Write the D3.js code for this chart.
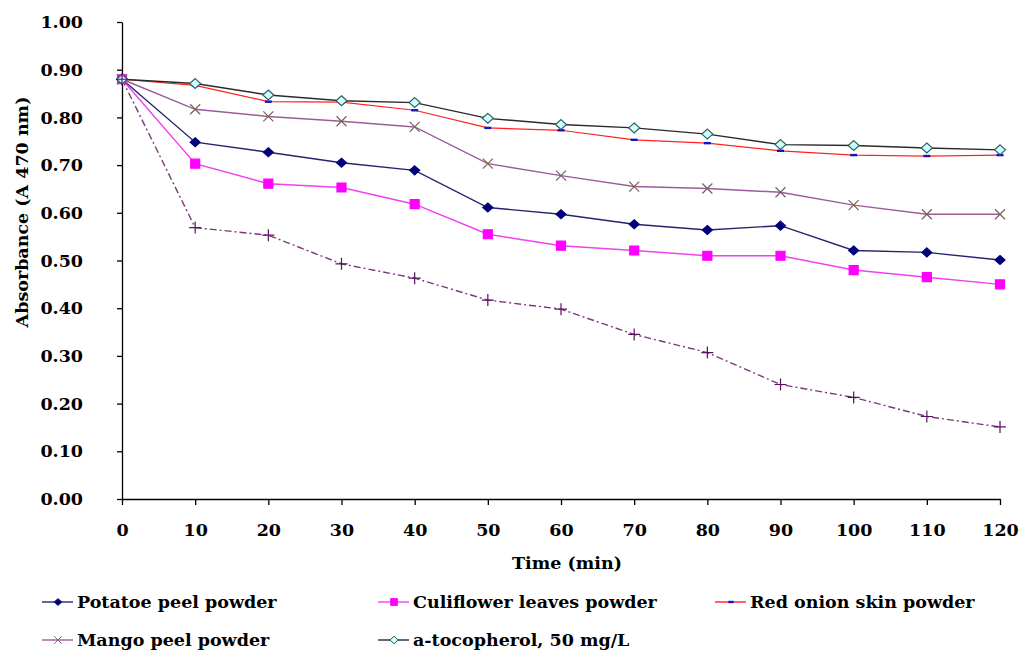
<!DOCTYPE html>
<html>
<head>
<meta charset="utf-8">
<script src="https://cdn.jsdelivr.net/npm/d3@7"></script>
<style>
  body { margin: 0; background: #fff; }
  text { font-family: "DejaVu Serif", "Liberation Serif", serif; font-weight: bold; fill: #000; }
</style>
</head>
<body>
<div id="demo"></div>
<script>
let times = [0, 10, 20, 30, 40, 50, 60, 70, 80, 90, 100, 110, 120];
let yTicks = [0, 0.1, 0.2, 0.3, 0.4, 0.5, 0.6, 0.7, 0.8, 0.9, 1.0];

let potatoe = [0.880, 0.748, 0.727, 0.705, 0.689, 0.611, 0.597, 0.576, 0.564, 0.573, 0.521, 0.517, 0.501];
let culiflower = [0.880, 0.703, 0.661, 0.653, 0.618, 0.555, 0.531, 0.521, 0.510, 0.510, 0.480, 0.465, 0.450];
let redOnion = [0.880, 0.867, 0.833, 0.832, 0.815, 0.778, 0.773, 0.753, 0.746, 0.730, 0.721, 0.719, 0.721];
let mango = [0.880, 0.817, 0.802, 0.792, 0.780, 0.703, 0.678, 0.655, 0.651, 0.643, 0.616, 0.597, 0.597];
let tocopherol = [0.880, 0.871, 0.847, 0.835, 0.831, 0.798, 0.785, 0.778, 0.765, 0.743, 0.741, 0.736, 0.732];
let control = [0.880, 0.569, 0.553, 0.493, 0.463, 0.417, 0.398, 0.345, 0.307, 0.240, 0.213, 0.173, 0.151];

let legendNames = ["Potatoe peel powder", "Culiflower leaves powder", "Red onion skin powder",
                   "Mango peel powder", "a-tocopherol, 50 mg/L"];

// custom symbols (size = full width in px)
let symX = { draw: (c, s) => { let r = s / 2; c.moveTo(-r, -r); c.lineTo(r, r); c.moveTo(r, -r); c.lineTo(-r, r); } };
let symPlus = { draw: (c, s) => { let r = s / 2; c.moveTo(-r, 0); c.lineTo(r, 0); c.moveTo(0, -r); c.lineTo(0, r); } };
let symDash = { draw: (c, s) => { c.rect(-s / 2, -1.2, s, 2.4); } };
let symDiamond = { draw: (c, s) => { let r = s / 2; c.moveTo(0, -r * 0.9); c.lineTo(r, 0); c.lineTo(0, r * 0.9); c.lineTo(-r, 0); c.closePath(); } };
let symSquare = { draw: (c, s) => { c.rect(-s / 2, -s / 2, s, s); } };

let series = [
  { name: legendNames[0], values: potatoe, line: "#24246e", width: 1.4, dash: null, sym: symDiamond, size: 10, fill: "#00007a", stroke: "#00007a" },
  { name: legendNames[1], values: culiflower, line: "#f040f0", width: 1.4, dash: null, sym: symSquare, size: 9, fill: "#ff00ff", stroke: "#ff00ff" },
  { name: legendNames[2], values: redOnion, line: "#ff2020", width: 1.2, dash: null, sym: symDash, size: 7, fill: "#1010d0", stroke: "none" },
  { name: legendNames[3], values: mango, line: "#9c5c9c", width: 1.4, dash: null, sym: symX, size: 10, fill: "none", stroke: "#7a6258" },
  { name: legendNames[4], values: tocopherol, line: "#2a2a2a", width: 1.4, dash: null, sym: symDiamond, size: 11, fill: "#ccffff", stroke: "#2f5f5f" },
  { name: null, values: control, line: "#7a3a7a", width: 1.4, dash: "7,3,2,3", sym: symPlus, size: 12, fill: "none", stroke: "#5a1060" }
];

let w = 1022, h = 651;

let svg = d3.select("#demo")
  .append("svg")
  .attr("width", w)
  .attr("height", h);

let x = d3.scaleLinear().domain([0, 120]).range([122, 1000]);
let y = d3.scaleLinear().domain([0, 1]).range([499, 22]);

// axes
let yAxis = svg.append("g")
  .attr("transform", "translate(122,0)")
  .call(d3.axisLeft(y).tickValues(yTicks).tickSize(5).tickSizeOuter(0).tickPadding(34).tickFormat(d3.format(".2f")));

let xAxis = svg.append("g")
  .attr("transform", "translate(0,499)")
  .call(d3.axisBottom(x).tickValues(times).tickSize(6).tickSizeOuter(0).tickPadding(19).tickFormat(d3.format("d")));

[yAxis, xAxis].forEach((g) => {
  g.selectAll("path, line").attr("stroke", "#000").attr("stroke-width", 1.3);
  g.selectAll("text").attr("font-size", 17.5).attr("font-family", null);
});

svg.append("text")
  .attr("x", 567)
  .attr("y", 569)
  .attr("text-anchor", "middle")
  .attr("font-size", 17.5)
  .text("Time (min)");

svg.append("text")
  .attr("transform", "translate(28,212) rotate(-90)")
  .attr("text-anchor", "middle")
  .attr("font-size", 17.5)
  .text("Absorbance (A 470 nm)");

// lines
let line = d3.line()
  .x((d, i) => x(times[i]))
  .y((d) => y(d));

let plot = svg.append("g");

series.forEach((s) => {
  plot.append("path")
    .datum(s.values)
    .attr("fill", "none")
    .attr("stroke", s.line)
    .attr("stroke-width", s.width)
    .attr("stroke-dasharray", s.dash)
    .attr("d", line);
});

series.forEach((s) => {
  plot.append("g")
    .selectAll("path")
    .data(s.values)
    .enter().append("path")
    .attr("transform", (d, i) => "translate(" + x(times[i]) + "," + y(d) + ")")
    .attr("d", d3.symbol().type(s.sym).size(s.size))
    .attr("fill", s.fill)
    .attr("stroke", s.stroke)
    .attr("stroke-width", 1.2);
});

// legend
let legendPos = [[42, 602], [378, 602], [715, 602], [42, 640], [378, 640]];

let legend = svg.append("g")
  .selectAll("g")
  .data(series.filter((s) => s.name))
  .enter().append("g")
  .attr("transform", (d, i) => "translate(" + legendPos[i][0] + "," + legendPos[i][1] + ")");

legend.append("line")
  .attr("x1", 0)
  .attr("x2", 31)
  .attr("stroke", (d) => d.line)
  .attr("stroke-width", 1.4);

legend.append("path")
  .attr("transform", "translate(16,0)")
  .attr("d", (d) => d3.symbol().type(d.sym).size(d.size * 0.75)())
  .attr("fill", (d) => d.fill)
  .attr("stroke", (d) => d.stroke)
  .attr("stroke-width", 1);

legend.append("text")
  .attr("x", 35)
  .attr("dy", "0.35em")
  .attr("font-size", 17.5)
  .text((d) => d.name);
</script>
</body>
</html>
